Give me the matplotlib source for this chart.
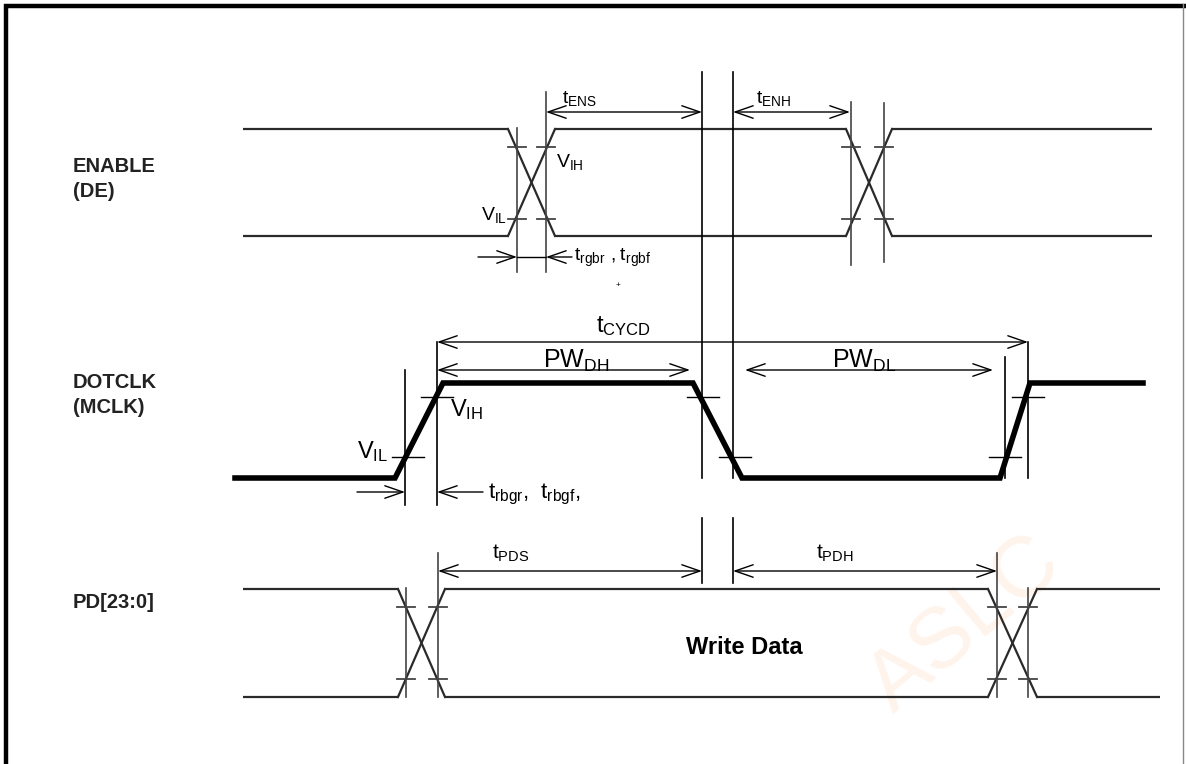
import matplotlib
matplotlib.use("Agg")
import matplotlib.pyplot as plt

plt.rcParams['font.family'] = ['Liberation Sans', 'DejaVu Sans']
plt.rcParams['mathtext.fontset'] = 'custom'
plt.rcParams['mathtext.rm'] = 'Liberation Sans'

# ---------------- data (timing positions in diagram units) ----------------
signal_names = ["ENABLE\n(DE)", "DOTCLK\n(MCLK)", "PD[23:0]"]
label_y = [179, 395, 603]

# ENABLE (bus style)
enable_span = [243, 1152]
enable_levels = [129, 236]            # high, low
enable_edges = [[508, 555], [846, 892]]

# DOTCLK (single line)
clk_x = [235, 395, 443, 693, 742, 1000, 1030, 1143]
clk_y = [478, 478, 383, 383, 478, 478, 383, 383]

# PD (bus style)
pd_span = [243, 1160]
pd_levels = [589, 697]
pd_edges = [[398, 445], [988, 1037]]

# vertical reference lines: x, y_top, y_bottom
vlines = [
    (517, 128, 272), (546, 92, 272), (851, 102, 265), (884, 103, 262),
    (702, 72, 478), (733, 72, 478), (702, 518, 583), (733, 518, 583),
    (405, 370, 505), (437, 342, 505), (1005, 357, 478), (1028, 342, 478),
    (406, 588, 697), (438, 553, 697), (997, 553, 697), (1028, 588, 697),
]

# threshold tick marks: x centre, y
ticks_enable = [(517, 147), (517, 219), (546, 147), (546, 219),
                (851, 147), (851, 219), (884, 147), (884, 219)]
ticks_clk = [(437, 397), (408, 457), (703, 397), (735, 457),
             (1005, 457), (1028, 397)]
ticks_pd = [(406, 607), (406, 679), (438, 607), (438, 679),
            (997, 607), (997, 679), (1028, 607), (1028, 679)]

# dimension arrows: x0, x1, y, label, label x, label y, fontsize
dims = [
    (546, 702, 112, r'$\mathregular{t_{ENS}}$', 562, 99, 14),
    (733, 850, 112, r'$\mathregular{t_{ENH}}$', 756, 99, 14),
    (437, 1028, 342, r'$\mathregular{t_{CYCD}}$', 596, 326, 17),
    (437, 690, 370, r'$\mathregular{PW_{DH}}$', 543, 361, 18),
    (745, 993, 370, r'$\mathregular{PW_{DL}}$', 832, 361, 18),
    (438, 702, 571, r'$\mathregular{t_{PDS}}$', 492, 553, 15),
    (733, 997, 571, r'$\mathregular{t_{PDH}}$', 816, 553, 15),
]

# ---------------- figure ----------------
fig = plt.figure(figsize=(11.86, 7.64), dpi=100)
ax = fig.add_axes([0, 0, 1, 1])
ax.set_xlim(0, 1186)
ax.set_ylim(764, 0)
ax.axis('off')

# frame
ax.plot([6, 6], [4, 764], color='black', lw=3.2, solid_capstyle='butt')
ax.plot([4, 1186], [6, 6], color='black', lw=3.2, solid_capstyle='butt')
ax.plot([1183, 1183], [4, 764], color='#888888', lw=1.0)

# faint watermark
ax.text(965, 625, "ASLC", fontsize=62, color='#fff4ec', rotation=40,
        ha='center', va='center', zorder=0)

wave_c = '#2a2a2a'


def bus(span, levels, edges, lw=1.6):
    hi, lo = levels
    xs = [span[0]]
    for e in edges:
        xs += e
    xs.append(span[1])
    for i in range(0, len(xs), 2):
        ax.plot([xs[i], xs[i + 1]], [hi, hi], color=wave_c, lw=lw, solid_capstyle='butt')
        ax.plot([xs[i], xs[i + 1]], [lo, lo], color=wave_c, lw=lw, solid_capstyle='butt')
    for a, b in edges:
        ax.plot([a, b], [hi, lo], color=wave_c, lw=lw)
        ax.plot([a, b], [lo, hi], color=wave_c, lw=lw)


bus(enable_span, enable_levels, enable_edges)
bus(pd_span, pd_levels, pd_edges)
ax.plot(clk_x, clk_y, color='black', lw=4.0, solid_joinstyle='miter')

for x, y0, y1 in vlines:
    c = '#444444' if (y1 <= 300 or y0 >= 540) else 'black'
    ax.plot([x, x], [y0, y1], color=c, lw=1.2)

for x, y in ticks_enable + ticks_pd:
    ax.plot([x - 9, x + 9], [y, y], color='#444444', lw=1.3)
for x, y in ticks_clk:
    ax.plot([x - 16, x + 16], [y, y], color='black', lw=1.0)

arrow_kw = dict(arrowstyle='<->,head_length=1.3,head_width=0.45',
                lw=1.0, color='black', shrinkA=0, shrinkB=0)
for x0, x1, y, lab, tx, ty, fs in dims:
    ax.annotate('', xy=(x1, y), xytext=(x0, y), arrowprops=arrow_kw)
    ax.text(tx, ty, lab, fontsize=fs, ha='left', va='center')

one_kw = dict(arrowstyle='->,head_length=1.3,head_width=0.45',
              lw=1.0, color='black', shrinkA=0, shrinkB=0)
# ENABLE rise/fall arrows
ax.annotate('', xy=(517, 257), xytext=(478, 257), arrowprops=one_kw)
ax.annotate('', xy=(546, 257), xytext=(572, 257), arrowprops=one_kw)
ax.plot([517, 546], [257, 257], color='black', lw=1.0)
ax.text(574, 258, r'$\mathregular{t_{rgbr}\ ,t_{rgbf}}$', fontsize=14,
        ha='left', va='center')
ax.text(618, 285, '+', fontsize=6, ha='center', va='center')
# DOTCLK rise/fall arrows
ax.annotate('', xy=(405, 492), xytext=(357, 492), arrowprops=one_kw)
ax.annotate('', xy=(437, 492), xytext=(483, 492), arrowprops=one_kw)
ax.text(488, 494, r'$\mathregular{t_{rbgr},\ t_{rbgf},}$', fontsize=16,
        ha='left', va='center')

# threshold labels
ax.text(556, 162, r'$\mathregular{V_{IH}}$', fontsize=14, ha='left', va='center')
ax.text(481, 215, r'$\mathregular{V_{IL}}$', fontsize=14, ha='left', va='center')
ax.text(450, 410, r'$\mathregular{V_{IH}}$', fontsize=17, ha='left', va='center')
ax.text(357, 452, r'$\mathregular{V_{IL}}$', fontsize=17, ha='left', va='center')

ax.text(744, 648, 'Write Data', fontsize=17, fontweight='bold',
        ha='center', va='center')

for name, y in zip(signal_names, label_y):
    ax.text(73, y, name, fontsize=14.5, fontweight='bold', ha='left',
            va='center', linespacing=1.45, color='#222222')

fig.savefig('out.png', dpi=100)
